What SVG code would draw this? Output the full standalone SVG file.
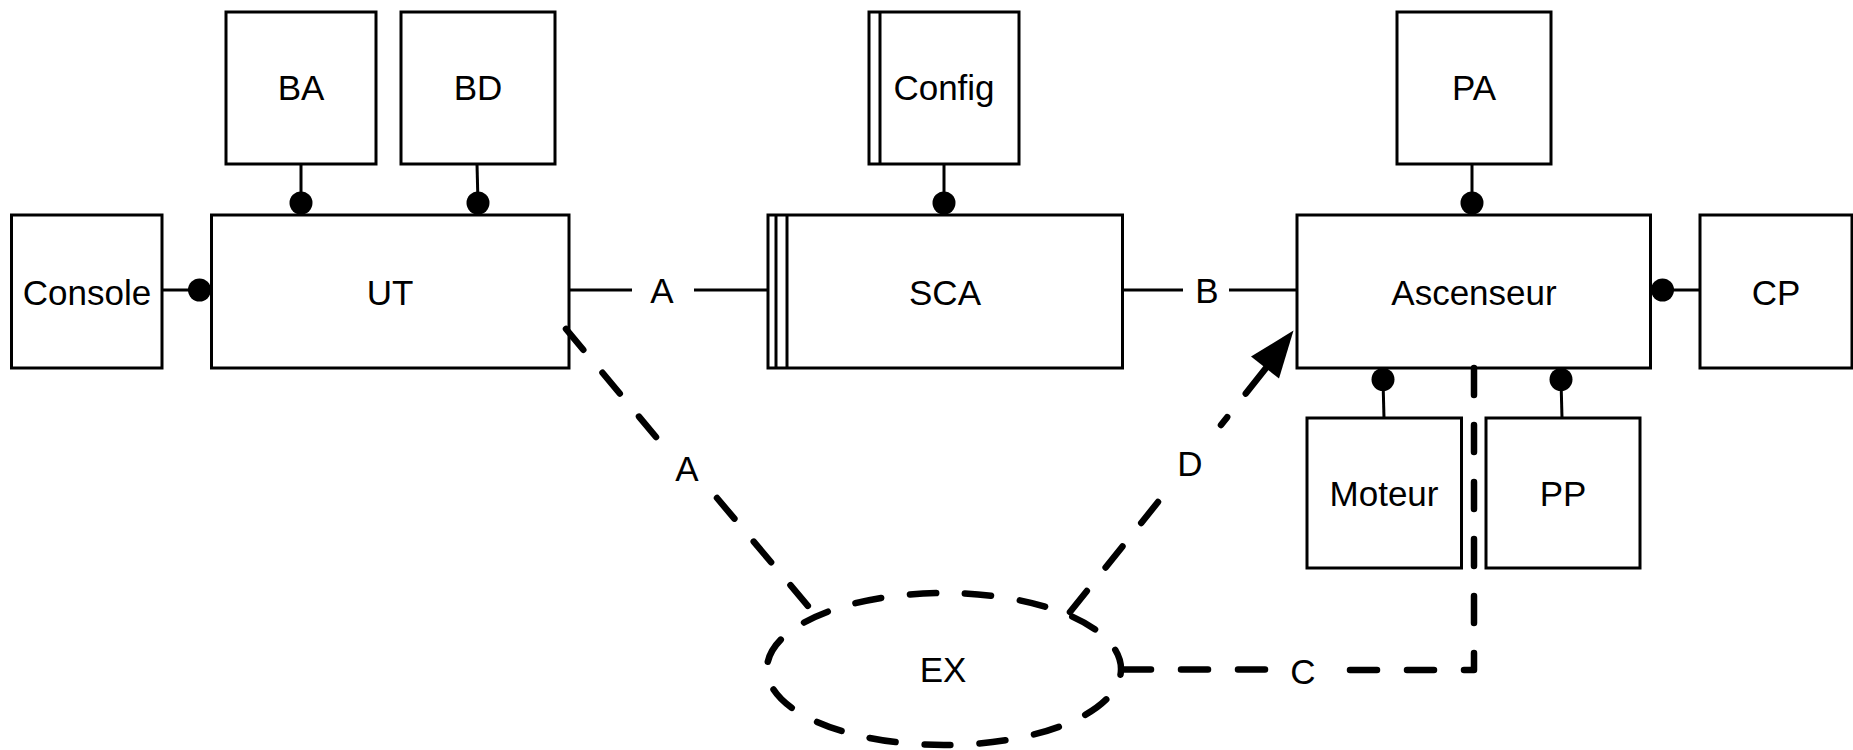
<svg xmlns="http://www.w3.org/2000/svg" width="1853" height="750" viewBox="0 0 1853 750">
  <style>
    .box { fill: #fff; stroke: #000; stroke-width: 3; }
    .bar { fill: none; stroke: #000; stroke-width: 3; }
    .lbl { font-family: "Liberation Sans", Arial, Helvetica, sans-serif; font-size: 35px; fill: #000; text-anchor: middle; }
    .wire { fill: none; stroke: #000; stroke-width: 3; }
    .dot { fill: #000; }
    .dash { fill: none; stroke: #000; stroke-width: 6.5; stroke-linecap: round; stroke-linejoin: round; stroke-dasharray: 27 30; }
  </style>
  <rect width="1853" height="750" fill="#fff"/>

  <!-- nodes -->
  <g id="node-BA">
    <rect class="box" x="226" y="12" width="150" height="152"/>
    <text class="lbl" x="301" y="100">BA</text>
  </g>
  <g id="node-BD">
    <rect class="box" x="401" y="12" width="154" height="152"/>
    <text class="lbl" x="478" y="100">BD</text>
  </g>
  <g id="node-Config">
    <rect class="box" x="869" y="12" width="150" height="152"/>
    <line class="bar" x1="880" y1="12" x2="880" y2="164"/>
    <text class="lbl" x="944" y="100">Config</text>
  </g>
  <g id="node-PA">
    <rect class="box" x="1397" y="12" width="154" height="152"/>
    <text class="lbl" x="1474" y="100">PA</text>
  </g>
  <g id="node-Console">
    <rect class="box" x="11.5" y="215" width="150.5" height="153"/>
    <text class="lbl" x="87" y="305">Console</text>
  </g>
  <g id="node-UT">
    <rect class="box" x="211.5" y="215" width="357.5" height="153"/>
    <text class="lbl" x="390" y="305">UT</text>
  </g>
  <g id="node-SCA">
    <rect class="box" x="768" y="215" width="354.5" height="153"/>
    <line class="bar" x1="776" y1="215" x2="776" y2="368"/>
    <line class="bar" x1="787" y1="215" x2="787" y2="368"/>
    <text class="lbl" x="945" y="305">SCA</text>
  </g>
  <g id="node-Ascenseur">
    <rect class="box" x="1297" y="215" width="353.5" height="153"/>
    <text class="lbl" x="1474" y="305">Ascenseur</text>
  </g>
  <g id="node-CP">
    <rect class="box" x="1700" y="215" width="152" height="153"/>
    <text class="lbl" x="1776" y="305">CP</text>
  </g>
  <g id="node-Moteur">
    <rect class="box" x="1307" y="418" width="154.5" height="150"/>
    <text class="lbl" x="1384" y="506">Moteur</text>
  </g>
  <g id="node-PP">
    <rect class="box" x="1486" y="418" width="154" height="150"/>
    <text class="lbl" x="1563" y="506">PP</text>
  </g>
  <g id="node-EX">
    <ellipse class="dash" cx="944" cy="669" rx="177" ry="76" pathLength="855" stroke-dashoffset="21"/>
    <text class="lbl" x="943" y="682">EX</text>
  </g>

  <!-- connectors -->
  <g id="connectors">
    <!-- ball joints -->
    <line class="wire" x1="301" y1="164" x2="301" y2="203"/>
    <circle class="dot" cx="301" cy="203" r="11.5"/>
    <line class="wire" x1="477" y1="164" x2="478" y2="203"/>
    <circle class="dot" cx="478" cy="203" r="11.5"/>
    <line class="wire" x1="944" y1="164" x2="944" y2="203"/>
    <circle class="dot" cx="944" cy="203" r="11.5"/>
    <line class="wire" x1="1472" y1="164" x2="1472" y2="203"/>
    <circle class="dot" cx="1472" cy="203" r="11.5"/>
    <line class="wire" x1="162" y1="290" x2="199" y2="290"/>
    <circle class="dot" cx="199.5" cy="290" r="11.5"/>
    <line class="wire" x1="1663" y1="290" x2="1700" y2="290"/>
    <circle class="dot" cx="1662.5" cy="290" r="11.5"/>
    <line class="wire" x1="1383" y1="380" x2="1384" y2="418"/>
    <circle class="dot" cx="1383" cy="379.5" r="11.5"/>
    <line class="wire" x1="1561" y1="380" x2="1562" y2="418"/>
    <circle class="dot" cx="1561" cy="379.5" r="11.5"/>

    <!-- A : UT to SCA -->
    <line class="wire" x1="569" y1="290" x2="632" y2="290"/>
    <line class="wire" x1="694" y1="290" x2="768" y2="290"/>
    <text class="lbl" x="662" y="303">A</text>
    <!-- B : SCA to Ascenseur -->
    <line class="wire" x1="1122" y1="290" x2="1183" y2="290"/>
    <line class="wire" x1="1229" y1="290" x2="1297" y2="290"/>
    <text class="lbl" x="1207" y="303">B</text>

    <!-- A : EX to UT (dashed) -->
    <path class="dash" d="M566,329 L656,437"/>
    <path class="dash" d="M717,498 L813,612"/>
    <text class="lbl" x="687" y="481">A</text>

    <!-- D : EX to Ascenseur (dashed, arrow) -->
    <path class="dash" d="M1070,612 L1158,502"/>
    <path class="dash" style="stroke-dasharray: 10 30 60" d="M1221,425 L1266,368"/>
    <polygon points="1293.5,330.5 1251,356.5 1279,378.5" fill="#000"/>
    <text class="lbl" x="1190" y="476">D</text>

    <!-- C : EX to Ascenseur (dashed, passes between Moteur and PP) -->
    <path class="dash" d="M1124,669.5 H1265"/>
    <path class="dash" d="M1474,368 V670 H1347"/>
    <text class="lbl" x="1303" y="684">C</text>
  </g>
</svg>
